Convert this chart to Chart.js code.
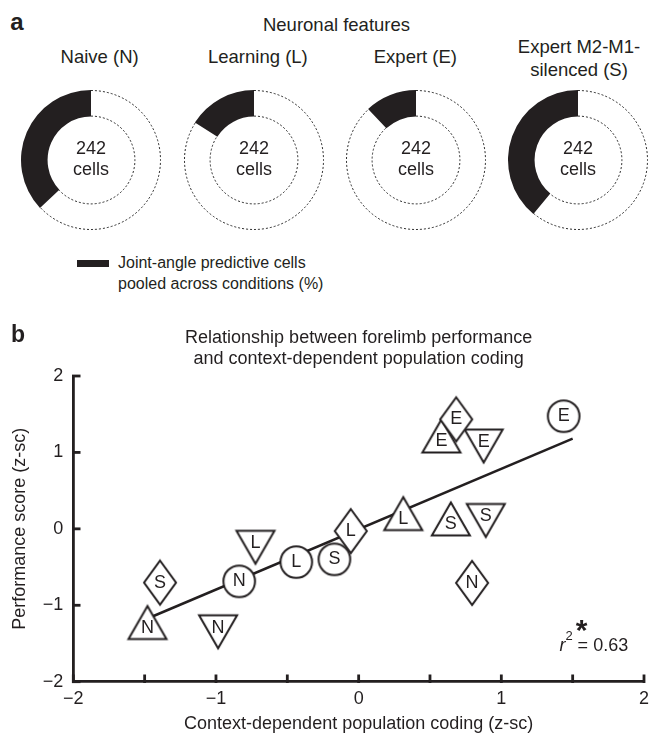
<!DOCTYPE html>
<html>
<head>
<meta charset="utf-8">
<title>Neuronal features and forelimb performance</title>
<script src="https://cdn.jsdelivr.net/npm/chart.js"></script>
<style>
  html, body { margin:0; padding:0; background:#ffffff; }
  body { width:652px; height:735px; position:relative; overflow:hidden;
         font-family:"Liberation Sans", Arial, Helvetica, sans-serif; color:#231f20; }
  .txt { position:absolute; white-space:nowrap; transform:translate(-50%,-50%);
         line-height:1; text-align:center; }
  .sub { font-size:18.5px; }
  .panel { font-weight:bold; font-size:24px; }
  .donut { position:absolute; width:160px; height:160px; top:80px; }
  #legendBar { position:absolute; left:77px; top:260px; width:32px; height:6.5px; background:#231f20; }
  #legendText { position:absolute; left:118px; top:251.5px; font-size:16px; line-height:21.7px; white-space:nowrap; }
  #scatterBox { position:absolute; left:0; top:300px; width:652px; height:435px; }
</style>
</head>
<body>
<div class="txt panel" style="left:17px; top:22px;">a</div>
<div class="txt sub" style="left:336.5px; top:25px;">Neuronal features</div>
<div id="titles"></div>
<div id="donuts"></div>
<div id="legendBar"></div>
<div id="legendText">Joint-angle predictive cells<br>pooled across conditions (%)</div>
<div id="scatterBox"><canvas id="scatter"></canvas></div>

<script>
// ---------------- data ----------------
const conditionTitles = [['Naive (N)'], ['Learning (L)'], ['Expert (E)'], ['Expert M2-M1-', 'silenced (S)']];
const predictivePct   = [37, 16, 12, 39];          // % joint-angle predictive cells
const cellCounts      = [242, 242, 242, 242];

const codingX      = [0.580, 0.876, 0.313, -0.723, 0.646, 0.891, -1.480, -0.985,
                      1.437, -0.837, -0.437, -0.170,
                      0.684, -0.055, -1.392, 0.795];
const performanceY = [1.215, 1.084, 0.200, -0.241, 0.130, 0.110, -1.226, -1.347,
                      1.474, -0.687, -0.435, -0.399,
                      1.433, -0.029, -0.703, -0.707];
const conditionLetter = ['E','E','L','L','S','S','N','N',
                         'E','N','L','S',
                         'E','L','S','N'];
const markerShape = ['triangleUp','triangleDown','triangleUp','triangleDown','triangleUp','triangleDown','triangleUp','triangleDown',
                     'circle','circle','circle','circle',
                     'diamond','diamond','diamond','diamond'];
const fitX = [-1.45, 1.50];
const fitY = [-1.15, 1.18];
const rSquared = 0.63;
const xTickValues = [-2, -1.5, -1, -0.5, 0, 0.5, 1, 1.5, 2];
const yTickValues = [-2, -1, 0, 1, 2];

// ---------------- styling / layout ----------------
const INK = '#231f20';
const FONT = "'Liberation Sans', Arial, Helvetica, sans-serif";
Chart.defaults.font.family = FONT;
Chart.defaults.color = INK;
Chart.defaults.animation = false;

const donutCenters = [91, 254, 416, 578];
const titleCenters = [99.6, 257.9, 415.4, 579];

// subtitles
const titlesDiv = document.getElementById('titles');
conditionTitles.forEach((lines, i) => {
  const ys = lines.length === 1 ? [56.7] : [46.7, 70];
  lines.forEach((t, k) => {
    const d = document.createElement('div');
    d.className = 'txt sub';
    d.style.left = titleCenters[i] + 'px';
    d.style.top = ys[k] + 'px';
    d.textContent = t;
    titlesDiv.appendChild(d);
  });
});

// ---------------- donuts ----------------
const dottedRingPlugin = {
  id: 'dottedRing',
  afterDatasetsDraw(chart) {
    const el = chart.getDatasetMeta(0).data[0];
    const p = el.getProps(['x','y','startAngle','endAngle','innerRadius','outerRadius'], true);
    const ctx = chart.ctx;
    ctx.save();
    ctx.strokeStyle = '#2a2a2a';
    ctx.lineWidth = 1;
    ctx.setLineDash([2, 2]);
    ctx.beginPath(); ctx.arc(p.x, p.y, p.outerRadius - 0.5, p.startAngle, p.endAngle); ctx.stroke();
    ctx.beginPath(); ctx.arc(p.x, p.y, p.innerRadius + 0.5, p.startAngle, p.endAngle); ctx.stroke();
    ctx.restore();
  }
};
const centerTextPlugin = {
  id: 'centerText',
  afterDraw(chart, args, opts) {
    const el = chart.getDatasetMeta(0).data[0];
    const ctx = chart.ctx;
    ctx.save();
    ctx.fillStyle = INK;
    ctx.font = '18px ' + FONT;
    ctx.textAlign = 'center';
    ctx.textBaseline = 'middle';
    ctx.fillText(String(opts.count), el.x, el.y - 11);
    ctx.fillText('cells', el.x, el.y + 10);
    ctx.restore();
  }
};

const donutsDiv = document.getElementById('donuts');
predictivePct.forEach((p, i) => {
  const box = document.createElement('div');
  box.className = 'donut';
  box.style.left = (donutCenters[i] - 80) + 'px';
  const cv = document.createElement('canvas');
  box.appendChild(cv);
  donutsDiv.appendChild(box);
  new Chart(cv, {
    type: 'doughnut',
    data: {
      labels: ['Other cells', 'Joint-angle predictive cells pooled across conditions (%)'],
      datasets: [{
        data: [100 - p, p],
        backgroundColor: ['#ffffff', INK],
        borderWidth: 0,
        hoverOffset: 0
      }]
    },
    options: {
      responsive: true,
      maintainAspectRatio: false,
      radius: 70,
      cutout: '62%',
      events: [],
      layout: { padding: 0 },
      plugins: {
        legend: { display: false },
        tooltip: { enabled: false },
        centerText: { count: cellCounts[i] }
      }
    },
    plugins: [dottedRingPlugin, centerTextPlugin]
  });
});

// ---------------- scatter markers ----------------
function makeMarker(shape) {
  const c = document.createElement('canvas');
  let w, h;
  if (shape === 'circle') { w = 40; h = 40; }
  else if (shape === 'diamond') { w = 42; h = 54; }
  else { w = 48; h = 44; }
  c.width = w; c.height = h;
  const g = c.getContext('2d');
  g.fillStyle = '#ffffff';
  g.strokeStyle = INK;
  g.lineWidth = 2;
  g.lineJoin = 'miter';
  const cx = w / 2, cy = h / 2;
  g.beginPath();
  if (shape === 'circle') {
    g.arc(cx, cy, 15.8, 0, Math.PI * 2);
  } else if (shape === 'diamond') {
    const hw = 16, hh = 22;
    g.moveTo(cx, cy - hh); g.lineTo(cx + hw, cy); g.lineTo(cx, cy + hh); g.lineTo(cx - hw, cy); g.closePath();
  } else if (shape === 'triangleUp') {
    const hw = 19, hh = 16.5;
    g.moveTo(cx, cy - hh); g.lineTo(cx + hw, cy + hh); g.lineTo(cx - hw, cy + hh); g.closePath();
  } else {
    const hw = 19, hh = 16.5;
    g.moveTo(cx - hw, cy - hh); g.lineTo(cx + hw, cy - hh); g.lineTo(cx, cy + hh); g.closePath();
  }
  g.fill();
  g.stroke();
  return c;
}
const markerImages = {};
['circle','diamond','triangleUp','triangleDown'].forEach(s => markerImages[s] = makeMarker(s));
const letterOffset = { circle: 0, diamond: 0, triangleUp: 5, triangleDown: -4 };

const letterPlugin = {
  id: 'markerLetters',
  afterDatasetsDraw(chart) {
    const meta = chart.getDatasetMeta(0);
    const ctx = chart.ctx;
    ctx.save();
    ctx.fillStyle = INK;
    ctx.font = '18px ' + FONT;
    ctx.textAlign = 'center';
    ctx.textBaseline = 'middle';
    meta.data.forEach((el, i) => {
      ctx.fillText(conditionLetter[i], el.x, el.y + letterOffset[markerShape[i]]);
    });
    ctx.restore();
  }
};

const annotationPlugin = {
  id: 'panelAnnotations',
  afterDraw(chart) {
    const ctx = chart.ctx;
    const x = chart.scales.x, y = chart.scales.y;
    ctx.save();
    ctx.fillStyle = INK;
    // inward-pointing tick marks, positioned by the chart's own scales
    const yb = Math.round(x.top);
    const xl = Math.round(y.right);
    const tw = 2.8, tl = 7.5;
    xTickValues.forEach(v => {
      const px = x.getPixelForValue(v);
      ctx.fillRect(px - tw / 2, yb - tl, tw, tl + 1);
    });
    yTickValues.forEach(v => {
      const py = y.getPixelForValue(v);
      ctx.fillRect(xl - 1, py - tw / 2, tl + 1, tw);
    });
    ctx.textBaseline = 'alphabetic';
    // panel label
    ctx.font = 'bold 23px ' + FONT;
    ctx.textAlign = 'left';
    ctx.fillText('b', 11, 41.5);
    // significance star
    ctx.font = 'bold 30px ' + FONT;
    ctx.textAlign = 'center';
    ctx.fillText('*', x.getPixelForValue(1.563), y.getPixelForValue(-1.243) + 16.5);
    // r^2 = value
    const right = x.getPixelForValue(1.889);
    const base = y.getPixelForValue(-1.598);
    const rest = ' = ' + rSquared.toFixed(2);
    ctx.textAlign = 'left';
    ctx.font = 'italic 18px ' + FONT;
    const wR = ctx.measureText('r').width;
    ctx.font = '13px ' + FONT;
    const w2 = ctx.measureText('2').width;
    ctx.font = '18px ' + FONT;
    const wRest = ctx.measureText(rest).width;
    let sx = right - (wR + w2 + wRest);
    ctx.font = 'italic 18px ' + FONT;
    ctx.fillText('r', sx, base); sx += wR;
    ctx.font = '13px ' + FONT;
    ctx.fillText('2', sx, base - 10.5); sx += w2;
    ctx.font = '18px ' + FONT;
    ctx.fillText(rest, sx, base);
    ctx.restore();
  }
};

function fmtTick(v) {
  if (!Number.isInteger(v)) return '';
  return v < 0 ? '\u2212' + Math.abs(v) : String(v);
}

const axisCommon = {
  type: 'linear',
  min: -2,
  max: 2,
  border: { display: true, color: INK, width: 2.8 },
  grid: { display: false, drawOnChartArea: false, drawTicks: false }
};

new Chart(document.getElementById('scatter'), {
  type: 'scatter',
  data: {
    datasets: [
      {
        label: 'Conditions',
        data: codingX.map((xv, i) => ({ x: xv, y: performanceY[i] })),
        pointStyle: markerShape.map(s => markerImages[s]),
        pointRadius: 18,
        pointHoverRadius: 18,
        order: 1
      },
      {
        label: 'Linear fit',
        data: fitX.map((xv, i) => ({ x: xv, y: fitY[i] })),
        showLine: true,
        borderColor: INK,
        borderWidth: 2.5,
        pointRadius: 0,
        pointHoverRadius: 0,
        order: 2
      }
    ]
  },
  options: {
    responsive: true,
    maintainAspectRatio: false,
    events: [],
    layout: { autoPadding: false, padding: { top: 0, right: 8, bottom: 0, left: 0 } },
    plugins: {
      legend: { display: false },
      tooltip: { enabled: false },
      title: {
        display: true,
        fullSize: false,
        text: ['Relationship between forelimb performance', 'and context-dependent population coding'],
        font: { size: 18, weight: 'normal', lineHeight: 1.2 },
        color: INK,
        padding: { top: 26.9, bottom: 5.9 }
      }
    },
    scales: {
      x: Object.assign({}, axisCommon, {
        position: 'bottom',
        ticks: { stepSize: 0.5, autoSkip: false, maxRotation: 0, padding: 6.5,
                 font: { size: 18 }, color: INK, callback: fmtTick },
        title: { display: true, text: 'Context-dependent population coding (z-sc)',
                 font: { size: 18 }, color: INK, padding: { top: 0, bottom: 0 } },
        afterFit: s => { s.height = 53.3; s.paddingLeft = 0; s.paddingRight = 0; }
      }),
      y: Object.assign({}, axisCommon, {
        position: 'left',
        ticks: { stepSize: 1, padding: 10, font: { size: 18 }, color: INK, callback: fmtTick },
        title: { display: true, text: 'Performance score (z-sc)',
                 font: { size: 18 }, color: INK, padding: { top: 9, bottom: 0 } },
        afterFit: s => { s.width = 73.3; s.paddingTop = 0; s.paddingBottom = 0; }
      })
    }
  },
  plugins: [letterPlugin, annotationPlugin]
});
</script>
</body>
</html>
